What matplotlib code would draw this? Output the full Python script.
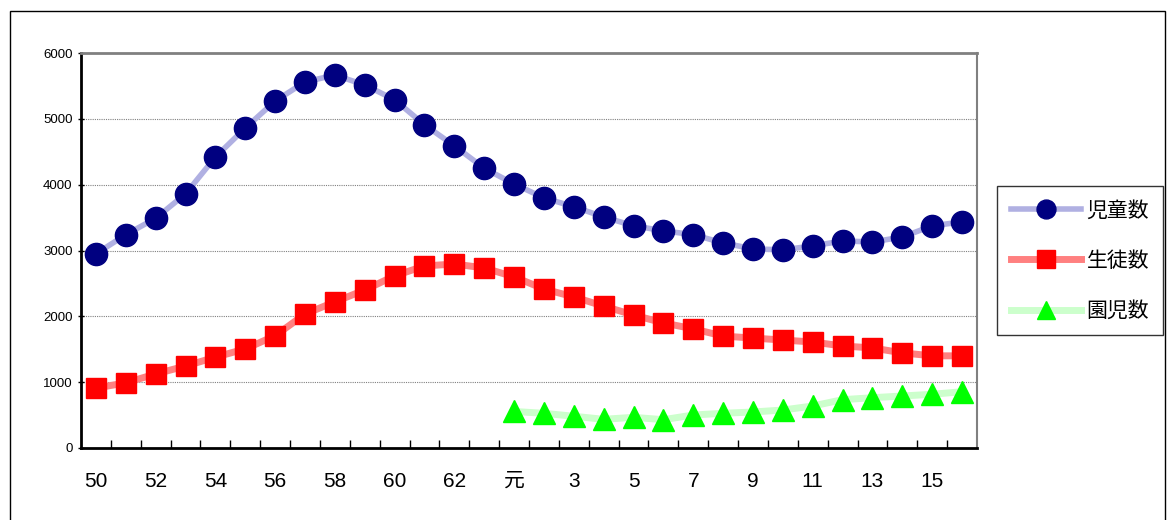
import numpy as np
import matplotlib.pyplot as plt
from matplotlib.patches import Rectangle

plt.rcParams['font.family'] = ['Liberation Sans', 'Noto Sans CJK JP', 'DejaVu Sans']

years = ['50', '51', '52', '53', '54', '55', '56', '57', '58', '59', '60', '61', '62', '63',
         '元', '2', '3', '4', '5', '6', '7', '8', '9', '10', '11', '12', '13', '14', '15', '16']
jido = [2950, 3240, 3490, 3860, 4420, 4860, 5270, 5560, 5665, 5515, 5290, 4910, 4590, 4250,
        4010, 3800, 3665, 3510, 3375, 3300, 3240, 3115, 3025, 3010, 3070, 3145, 3130, 3205, 3375, 3435]
seito = [910, 990, 1125, 1245, 1380, 1505, 1705, 2035, 2220, 2400, 2615, 2765, 2795, 2735,
         2600, 2415, 2295, 2155, 2020, 1900, 1810, 1700, 1670, 1640, 1610, 1550, 1520, 1445, 1400, 1400]
enji = [555, 527, 482, 436, 466, 430, 501, 527, 547, 577, 638, 734, 764, 790, 816, 855]
labels = ['児童数', '生徒数', '園児数']

x = np.arange(len(years))
x_enji = x[14:]

fig = plt.figure(figsize=(11.73, 5.2), dpi=100)
ax = fig.add_axes([81/1173, 1-448/520, 896/1173, 395/520])

ax.plot(x, jido, color='#b0b0e2', lw=4, marker='o', ms=16,
        mfc='#000080', mec='#000080', label=labels[0], zorder=3)
ax.plot(x, seito, color='#ff8080', lw=5, marker='s', ms=15,
        mfc='#ff0000', mec='#ff0000', label=labels[1], zorder=3)
ax.plot(x_enji, enji, color='#ccffcc', lw=5, marker='^', ms=16,
        mfc='#00ff00', mec='#00ff00', label=labels[2], zorder=3)

ax.set_xlim(-0.5, len(years)-0.5)
ax.set_ylim(0, 6000)
ax.set_yticks(np.arange(0, 6001, 1000))
ax.tick_params(axis='y', labelsize=9.5, direction='inout', length=5, width=1)
for v in range(1000, 6000, 1000):
    ax.axhline(v, color='#808080', lw=0.8, ls=(0, (1, 1)), zorder=1)

ax.set_xticks(x[::2])
ax.set_xticklabels(years[::2], fontsize=15)
ax.tick_params(axis='x', length=0, pad=17)
ax.set_xticks(x[:-1] + 0.5, minor=True)
ax.tick_params(axis='x', which='minor', direction='in', length=6, width=1)

ax.spines['left'].set_linewidth(2)
ax.spines['bottom'].set_linewidth(2)
ax.spines['top'].set_color('#808080')
ax.spines['top'].set_linewidth(2)
ax.spines['right'].set_color('#808080')
ax.spines['right'].set_linewidth(1.5)

leg = fig.legend(loc='upper left', bbox_to_anchor=(997/1173, 1-186/520),
                 handlelength=3.4, labelspacing=1.35, fancybox=False, markerscale=0.85,
                 edgecolor='black', borderpad=0.65, handletextpad=0.25,
                 borderaxespad=0, prop={'family': ['Noto Sans CJK JP'], 'size': 15})
leg.get_frame().set_linewidth(1)

fig.patches.append(Rectangle((10/1173, -0.1), 1155/1173, 1.1-11/520, transform=fig.transFigure,
                             fill=False, edgecolor='black', lw=1))

fig.savefig('out.png', dpi=100)
